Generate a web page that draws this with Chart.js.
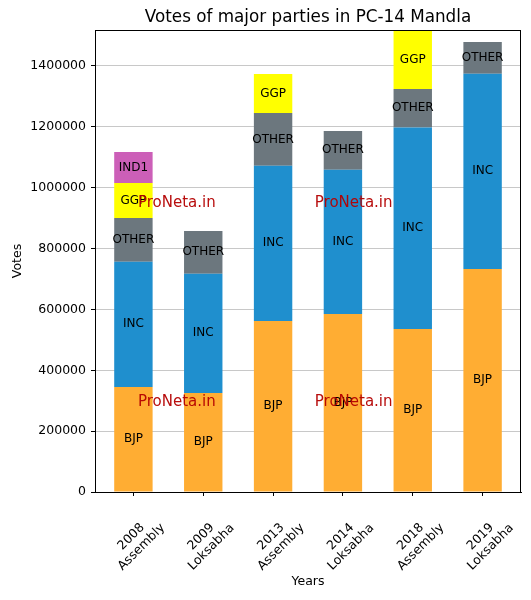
<!DOCTYPE html>
<html>
<head>
<meta charset="utf-8">
<script src="https://cdn.jsdelivr.net/npm/chart.js@4.4.1/dist/chart.umd.min.js"></script>
<style>
  html, body { margin: 0; padding: 0; background: #fff; }
</style>
</head>
<body>
<canvas id="myChart" width="531" height="600"></canvas>
<script>
// data
const categories = [
  ["2008", "Assembly"],
  ["2009", "Loksabha"],
  ["2013", "Assembly"],
  ["2014", "Loksabha"],
  ["2018", "Assembly"],
  ["2019", "Loksabha"],
];
const bjp = [345000, 325300, 561900, 585000, 535600, 732800];
const inc = [411800, 392100, 510100, 474000, 662400, 641700];
const other = [143600, 140200, 173000, 127000, 126000, 104200];
const ggp = [114600, null, 128500, null, 191000, null];
const ind1 = [102000, null, null, null, null, null];
const yTicks = [0, 200000, 400000, 600000, 800000, 1000000, 1200000, 1400000];
const chartTitle = "Votes of major parties in PC-14 Mandla";

Chart.defaults.font.family = "'DejaVu Sans', sans-serif";
Chart.defaults.color = "#000";

function series(label, values, color) {
  return {
    label: label,
    data: values.map((v, i) => ({ x: i, y: v })),
    backgroundColor: color,
    borderWidth: 0,
    categoryPercentage: 1,
    barPercentage: 0.55,
  };
}

// party name in the middle of every segment
const segmentLabels = {
  id: "segmentLabels",
  afterDatasetsDraw(chart) {
    const ctx = chart.ctx;
    ctx.save();
    ctx.font = "12px 'DejaVu Sans'";
    ctx.fillStyle = "#000";
    ctx.textAlign = "center";
    ctx.textBaseline = "middle";
    chart.data.datasets.forEach((ds, di) => {
      chart.getDatasetMeta(di).data.forEach((bar, i) => {
        if (ds.data[i].y == null) return;
        ctx.fillText(ds.label, bar.x, (bar.y + bar.base) / 2);
      });
    });
    ctx.restore();
  },
};

// title, rotated two-line tick labels, frame, watermark
const extras = {
  id: "extras",
  afterDraw(chart) {
    const ctx = chart.ctx;
    const area = chart.chartArea;
    const xs = chart.scales.x;
    ctx.save();
    ctx.strokeStyle = "#000";
    ctx.lineWidth = 1;
    ctx.strokeRect(area.left + 0.5, area.top + 0.5, area.right - area.left - 1, area.bottom - area.top);

    ctx.fillStyle = "#000";
    ctx.textAlign = "center";
    ctx.font = "16.8px 'DejaVu Sans'";
    ctx.textBaseline = "alphabetic";
    ctx.fillText(chartTitle, (area.left + area.right) / 2, 22);

    ctx.font = "12.5px 'DejaVu Sans'";
    ctx.textBaseline = "middle";
    const lh = 14.5;
    categories.forEach((lines, i) => {
      const x = xs.getPixelForValue(i);
      ctx.save();
      ctx.translate(x + 3, area.bottom + 50);
      ctx.rotate(-Math.PI / 4);
      lines.forEach((t, k) => {
        ctx.fillText(t, 0, (k - (lines.length - 1) / 2) * lh);
      });
      ctx.restore();
    });

    ctx.font = "15px 'DejaVu Sans'";
    ctx.fillStyle = "rgba(180, 0, 0, 0.95)";
    const W = chart.width, H = chart.height;
    [[0.333, 0.338], [0.666, 0.338], [0.333, 0.670], [0.666, 0.670]].forEach((p) => {
      ctx.fillText("ProNeta.in", W * p[0], H * p[1]);
    });
    ctx.restore();
  },
};

const ctx = document.getElementById("myChart");
const myChart = new Chart(ctx, {
  type: "bar",
  data: {
    datasets: [
      series("BJP", bjp, "#ffad33"),
      series("INC", inc, "#1f8fce"),
      series("OTHER", other, "#6c777e"),
      series("GGP", ggp, "#ffff00"),
      series("IND1", ind1, "#cc5fb8"),
    ],
  },
  options: {
    responsive: false,
    animation: false,
    devicePixelRatio: 1,
    layout: { padding: { left: 0, right: 10, top: 30, bottom: 0 } },
    plugins: {
      legend: { display: false },
      tooltip: { enabled: false },
      title: { display: false },
    },
    scales: {
      x: {
        type: "linear",
        stacked: true,
        offset: false,
        min: -0.55,
        max: 5.55,
        afterBuildTicks: (s) => {
          s.ticks = categories.map((c, i) => ({ value: i }));
        },
        afterFit: (s) => {
          s.height = 108;
        },
        ticks: { display: false },
        grid: { offset: false, drawOnChartArea: false, tickLength: 4, color: "#000", tickColor: "#000" },
        border: { color: "#000", width: 1 },
        title: {
          display: true,
          text: "Years",
          font: { size: 12.5 },
          color: "#000",
          padding: { top: 0, bottom: 11 },
        },
      },
      y: {
        stacked: true,
        min: 0,
        max: 1518000,
        afterBuildTicks: (s) => {
          s.ticks = yTicks.map((v) => ({ value: v }));
        },
        afterFit: (s) => {
          s.width = 95;
        },
        ticks: {
          font: { size: 12.5 },
          color: "#000",
          padding: 5,
          callback: (v) => String(v),
        },
        grid: { color: "#c8c8c8", tickLength: 4, tickColor: "#000" },
        border: { color: "#000", width: 1 },
        title: {
          display: true,
          text: "Votes",
          font: { size: 12.5 },
          color: "#000",
          padding: { top: 10, bottom: 0 },
        },
      },
    },
  },
  plugins: [segmentLabels, extras],
});
</script>
</body>
</html>
